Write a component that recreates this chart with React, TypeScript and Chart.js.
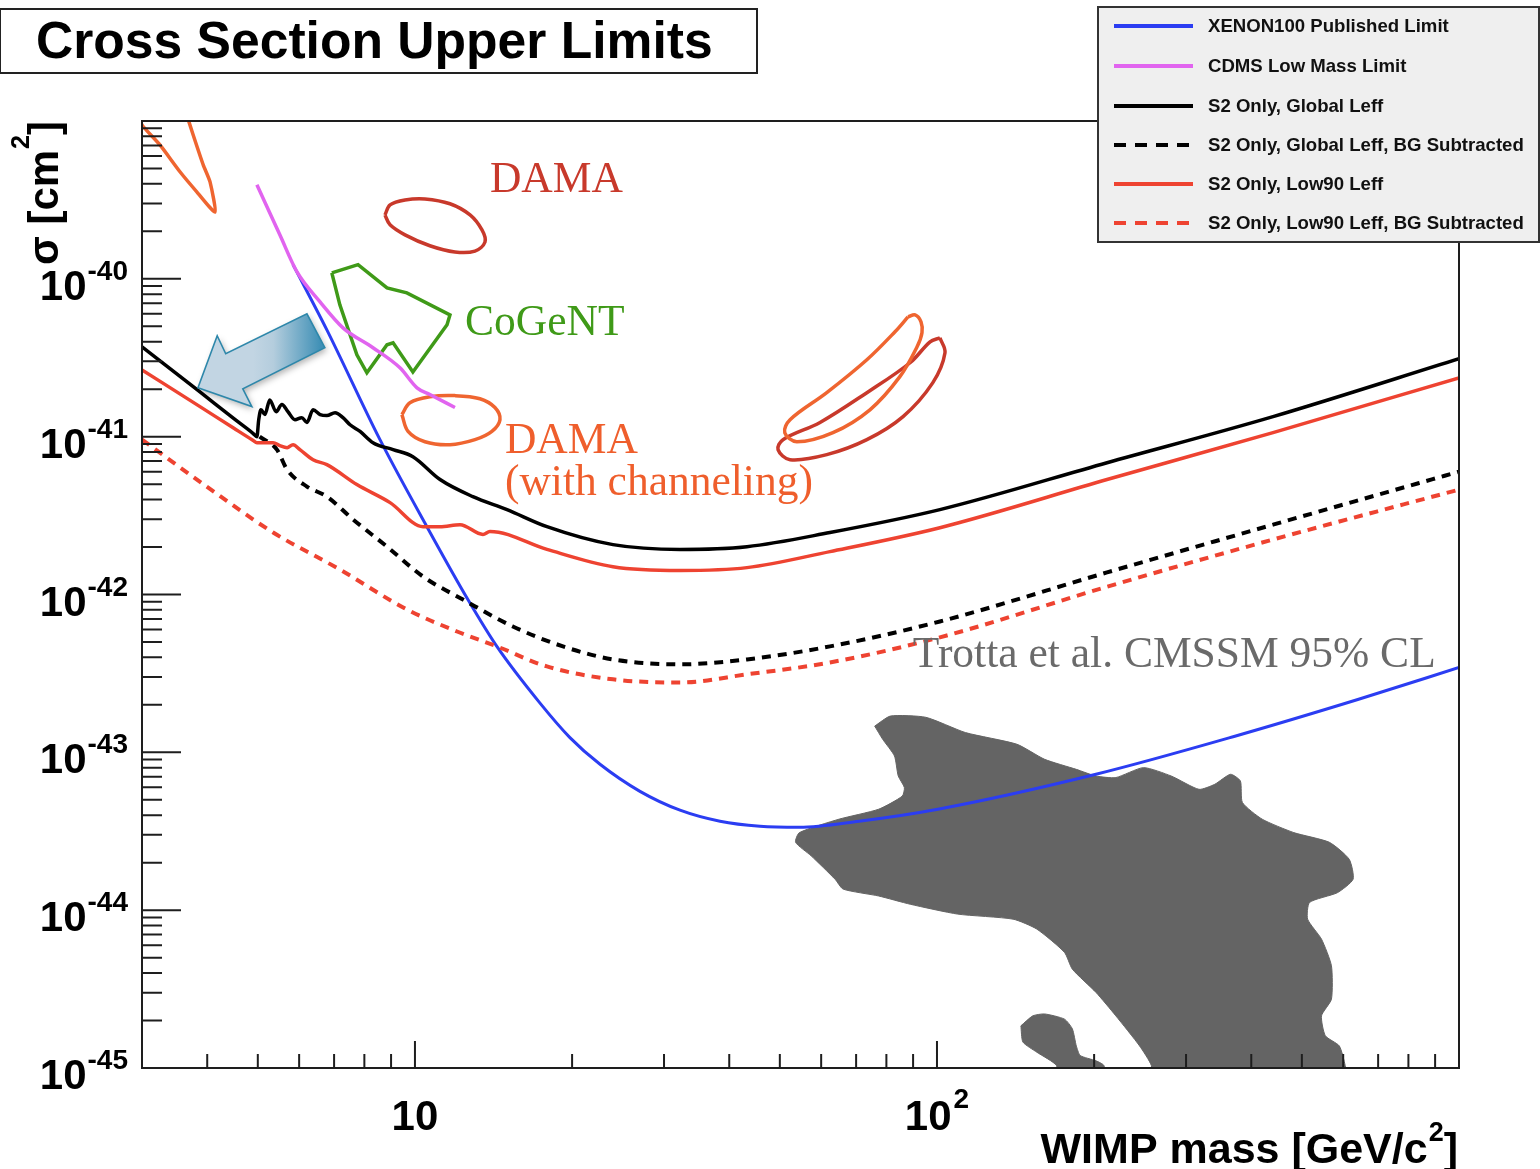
import React, { useEffect, useRef } from "react";
import { Chart, registerables } from "chart.js";

Chart.register(...registerables);

// ---- axis ranges (WIMP mass in GeV/c^2, cross section in cm^2) ----
const massMin = 3;
const massMax = 1000;
const sigmaMin = 1e-45;
const sigmaMax = 1e-39;

const xMajorTicks = [10, 100];
const xMinorTicks = [4, 5, 6, 7, 8, 9, 20, 30, 40, 50, 60, 70, 80, 90, 200, 300, 400, 500, 600, 700, 800, 900];
const xTickBases = ["10", "10"];
const xTickExponents = ["", "2"];
const yDecadeExponents = [-45, -44, -43, -42, -41, -40];
const yMinorMultipliers = [2, 3, 4, 5, 6, 7, 8, 9];

// ---- exclusion limits ----
const xenonMass = [5.84, 6.78, 8.57, 10.54, 12.63, 14.35, 17.36, 19.81, 22.62, 26.98, 32.19, 38.4, 45.8, 54.5, 70.9, 100.4, 201.6, 370.7, 640, 1000];
const xenonSigma = [1.23e-40, 4.75e-41, 9.57e-42, 2.69e-42, 9.29e-43, 4.69e-43, 2.05e-43, 1.24e-43, 8.4e-44, 5.66e-44, 4.3e-44, 3.66e-44, 3.4e-44, 3.35e-44, 3.66e-44, 4.36e-44, 7.26e-44, 1.26e-43, 2.16e-43, 3.45e-43];

const cdmsMass = [4.98, 5.51, 5.94, 6.58, 7.28, 8.31, 9.36, 10.09, 10.68, 11.93];
const cdmsSigma = [3.94e-40, 1.9e-40, 1.11e-40, 7.14e-41, 4.89e-41, 3.66e-41, 2.73e-41, 2.04e-41, 1.85e-41, 1.53e-41];

const globalMass = [3.0, 3.874, 4.5, 4.9, 4.98, 5.02, 5.07, 5.16, 5.27, 5.42, 5.56, 5.71, 5.89, 6.07, 6.21, 6.38, 6.58, 6.78, 7.03, 7.28, 7.51, 7.85, 8.31, 9.08, 9.91, 11.17, 12.91, 15.01, 17.9, 23.95, 32.19, 43.25, 62.37, 101.3, 211.7, 440.3, 1000];
const globalSigma = [3.71e-41, 1.92e-41, 1.3e-41, 1.047e-41, 1.0e-41, 1.28e-41, 1.48e-41, 1.38e-41, 1.71e-41, 1.44e-41, 1.6e-41, 1.44e-41, 1.28e-41, 1.32e-41, 1.23e-41, 1.48e-41, 1.38e-41, 1.36e-41, 1.42e-41, 1.32e-41, 1.19e-41, 1.08e-41, 9.16e-42, 8.28e-42, 7.47e-42, 5.35e-42, 4.17e-42, 3.45e-42, 2.69e-42, 2.07e-42, 1.93e-42, 2.01e-42, 2.47e-42, 3.45e-42, 6.84e-42, 1.34e-41, 3.12e-41];

const globalBgMass = [5.04, 5.44, 5.69, 6.21, 6.78, 7.61, 8.84, 10.36, 12.36, 15.4, 19.21, 23.95, 32.19, 43.25, 62.37, 101.3, 211.7, 440.3, 1000];
const globalBgSigma = [1.0e-41, 8.28e-42, 6.18e-42, 4.83e-42, 4.17e-42, 2.99e-42, 2.01e-42, 1.3e-42, 9.29e-43, 6.27e-43, 4.69e-43, 3.88e-43, 3.61e-43, 3.88e-43, 4.69e-43, 6.75e-43, 1.38e-42, 2.77e-42, 6.0e-42];

const low90Mass = [3.0, 3.874, 4.5, 4.9, 4.98, 5.35, 5.51, 5.69, 5.84, 6.02, 6.38, 6.78, 7.74, 8.96, 10.36, 11.17, 12.2, 13.5, 13.92, 17.9, 23.95, 32.19, 43.25, 62.37, 101.3, 211.7, 440.3, 1000];
const low90Sigma = [2.65e-41, 1.55e-41, 1.13e-41, 9.46e-42, 9.16e-42, 9.16e-42, 8.77e-42, 8.51e-42, 8.89e-42, 8.28e-42, 7.14e-42, 6.65e-42, 4.97e-42, 3.82e-42, 2.69e-42, 2.69e-42, 2.77e-42, 2.4e-42, 2.51e-42, 1.93e-42, 1.5e-42, 1.42e-42, 1.48e-42, 1.87e-42, 2.65e-42, 5.35e-42, 1.06e-41, 2.36e-41];

const low90BgMass = [3.0, 3.99, 5.35, 7.18, 9.65, 12.04, 14.35, 17.9, 23.95, 32.19, 43.25, 62.37, 101.3, 211.7, 440.3, 1000];
const low90BgSigma = [9.57e-42, 4.83e-42, 2.47e-42, 1.44e-42, 8.04e-43, 5.83e-43, 4.69e-43, 3.5e-43, 2.9e-43, 2.77e-43, 3.12e-43, 3.71e-43, 5.35e-43, 1.12e-42, 2.23e-42, 4.62e-42];

// ---- signal regions (closed contours) ----
const damaLowChanMass = [2.91, 3.0, 3.247, 3.55, 3.82, 4.14, 4.05, 3.93, 3.76, 3.63];
const damaLowChanSigma = [1.17e-39, 9.44e-40, 7.05e-40, 4.75e-40, 3.56e-40, 2.65e-40, 4.11e-40, 5.27e-40, 8.15e-40, 1.17e-39];

const damaLowMass = [8.76, 8.96, 9.57, 10.45, 11.67, 12.75, 13.44, 13.62, 13.03, 11.93, 10.68, 9.57, 8.96, 8.76];
const damaLowSigma = [2.54e-40, 2.94e-40, 3.16e-40, 3.21e-40, 2.99e-40, 2.54e-40, 2.04e-40, 1.71e-40, 1.5e-40, 1.48e-40, 1.62e-40, 1.9e-40, 2.2e-40, 2.54e-40];

const cogentMass = [6.93, 7.78, 8.84, 9.65, 11.67, 11.52, 9.91, 9.08, 8.84, 8.09, 7.74, 7.18, 6.93];
const cogentSigma = [1.09e-40, 1.23e-40, 8.77e-41, 8.15e-41, 5.91e-41, 5.12e-41, 2.57e-41, 3.93e-41, 3.82e-41, 2.54e-41, 3.3e-41, 6.84e-41, 1.09e-40];

const damaChanMass = [9.44, 9.78, 10.68, 11.93, 13.32, 14.23, 14.55, 14.04, 13.03, 11.67, 10.45, 9.7, 9.44];
const damaChanSigma = [1.38e-41, 1.64e-41, 1.79e-41, 1.82e-41, 1.74e-41, 1.53e-41, 1.28e-41, 1.08e-41, 9.57e-42, 8.89e-42, 9.28e-42, 1.08e-41, 1.38e-41];

const damaHighChanMass = [88.0, 90.8, 93.2, 93.6, 91.6, 84.9, 74.4, 63.2, 53.9, 51.1, 52.3, 61.5, 73.4, 83.1, 88.0];
const damaHighChanSigma = [5.74e-41, 5.91e-41, 5.34e-41, 4.55e-41, 3.71e-41, 2.4e-41, 1.48e-41, 1.06e-41, 9.28e-42, 1.06e-41, 1.28e-41, 1.9e-41, 3.07e-41, 4.62e-41, 5.74e-41];

const damaHighMass = [101.3, 103.6, 98.2, 86.1, 73.4, 61.5, 52.3, 49.6, 50.7, 59.7, 73.4, 88.8, 97.0, 101.3];
const damaHighSigma = [4.23e-41, 3.4e-41, 2.2e-41, 1.34e-41, 9.57e-42, 7.69e-42, 7.15e-42, 8.28e-42, 9.57e-42, 1.23e-41, 1.9e-41, 2.94e-41, 3.99e-41, 4.23e-41];

// CMSSM 95% CL region (Trotta et al.)
const cmssmMass = [75.98, 81.45, 95.2, 113.4, 142.3, 160.8, 184.9, 201.6, 220.1, 248.6, 281, 317.6, 340.4, 365.0, 381.3, 384.7, 419.8, 482.6, 564.6, 616.2, 626.8, 584.7, 517.4, 512.9, 545.3, 569.7, 569.7, 545.3, 554.6, 589.8, 605.3, 610, 257.5, 257.5, 244.4, 220.1, 201.7, 181.7, 175.5, 155.3, 139.9, 109.6, 88.9, 77.3, 66.1, 63.8, 57.4, 53.6, 54.5, 64.9, 77.3, 85.8, 86.6, 84.3, 82.9, 78.7, 75.98];
const cmssmSigma = [1.466e-43, 1.698e-43, 1.667e-43, 1.334e-43, 1.125e-43, 9.03e-44, 7.8e-44, 7.08e-44, 6.92e-44, 8.0e-44, 7.08e-44, 5.83e-44, 6.27e-44, 7.26e-44, 6.58e-44, 4.81e-44, 3.77e-44, 3.1e-44, 2.69e-44, 2.1e-44, 1.57e-44, 1.29e-44, 1.12e-44, 8.77e-45, 6.55e-45, 4.44e-45, 2.73e-45, 2.14e-45, 1.6e-45, 1.38e-45, 1.035e-45, 8e-46, 8e-46, 1.035e-45, 1.38e-45, 2.14e-45, 3.01e-45, 4.23e-45, 5.4e-45, 7.59e-45, 8.77e-45, 9.44e-45, 1.09e-44, 1.23e-44, 1.36e-44, 1.57e-44, 2.21e-44, 2.69e-44, 3.1e-44, 3.77e-44, 4.36e-44, 5.28e-44, 5.98e-44, 7.08e-44, 9.48e-44, 1.21e-43, 1.466e-43];
const cmssmIslandMass = [144.8, 152.6, 160.8, 175.5, 181.7, 184.9, 188.1, 201.7, 208.9, 208.9, 169.5, 169.5, 155.3, 146.1, 144.8];
const cmssmIslandSigma = [1.85e-45, 2.14e-45, 2.2e-45, 2.04e-45, 1.77e-45, 1.38e-45, 1.2e-45, 1.11e-45, 1.035e-45, 8e-46, 8e-46, 1.035e-45, 1.26e-45, 1.46e-45, 1.85e-45];

// ---- annotations ----
const arrowMass = [3.84, 4.18, 4.34, 6.21, 6.72, 4.68, 4.87];
const arrowSigma = [2.04e-41, 4.36e-41, 3.35e-41, 6.0e-41, 3.66e-41, 2.01e-41, 1.55e-41];

const noteTexts = ["DAMA", "CoGeNT", "DAMA", "(with channeling)", "Trotta et al. CMSSM 95% CL"];
const noteMass = [13.92, 12.47, 14.87, 14.87, 89.9];
const noteSigma = [3.56e-40, 4.42e-41, 7.92e-42, 4.3e-42, 3.45e-43];
const noteColors = ["#c8392b", "#3f9a18", "#ef5e2c", "#ef5e2c", "#6a6a6a"];

const legendLabels = [
  "XENON100 Published Limit",
  "CDMS Low Mass Limit",
  "S2 Only, Global Leff",
  "S2 Only, Global Leff, BG Subtracted",
  "S2 Only, Low90 Leff",
  "S2 Only, Low90 Leff, BG Subtracted",
];

const SANS = '"Liberation Sans", Arial, Helvetica, sans-serif';
const SERIF = '"Liberation Serif", "Times New Roman", serif';

function pts(mass: number[], sigma: number[]) {
  return mass.map((m, i) => ({ x: m, y: sigma[i] }));
}

function curve(label: string, mass: number[], sigma: number[], color: string, width: number, dash: number[], order: number, extra: any = {}) {
  return {
    label,
    data: pts(mass, sigma),
    borderColor: color,
    backgroundColor: color,
    borderWidth: width,
    borderDash: dash,
    pointRadius: 0,
    pointHoverRadius: 0,
    showLine: true,
    fill: false,
    order,
    clip: 0,
    ...extra,
  };
}

const decorPlugin = {
  id: "decor",
  beforeDraw(chart: any) {
    const { ctx, width, height } = chart;
    ctx.save();
    ctx.fillStyle = "#ffffff";
    ctx.fillRect(0, 0, width, height);
    ctx.restore();
  },
  afterDatasetsDraw(chart: any) {
    const ctx: CanvasRenderingContext2D = chart.ctx;
    const xs = chart.scales.x;
    const ys = chart.scales.y;
    const area = chart.chartArea;
    const px = (m: number) => xs.getPixelForValue(m);
    const py = (s: number) => ys.getPixelForValue(s);

    ctx.save();

    // pointer arrow
    {
      ctx.save();
      ctx.beginPath();
      arrowMass.forEach((m, i) => {
        const x = px(m);
        const y = py(arrowSigma[i]);
        if (i === 0) ctx.moveTo(x, y);
        else ctx.lineTo(x, y);
      });
      ctx.closePath();
      const g = ctx.createLinearGradient(px(4.9), 0, px(6.6), 0);
      g.addColorStop(0, "#c2d5e3");
      g.addColorStop(0.3, "#b4cddd");
      g.addColorStop(1, "#3f90b6");
      ctx.shadowColor = "rgba(0,0,0,0.3)";
      ctx.shadowBlur = 6;
      ctx.shadowOffsetX = 2;
      ctx.shadowOffsetY = 3;
      ctx.fillStyle = g;
      ctx.fill();
      ctx.shadowColor = "transparent";
      ctx.lineWidth = 1.6;
      ctx.strokeStyle = "#2d87aa";
      ctx.stroke();
      ctx.restore();
    }

    // region labels
    ctx.textAlign = "left";
    ctx.textBaseline = "alphabetic";
    ctx.font = `43.5px ${SERIF}`;
    noteTexts.forEach((t, i) => {
      ctx.fillStyle = noteColors[i];
      ctx.fillText(t, px(noteMass[i]), py(noteSigma[i]));
    });

    // frame
    ctx.strokeStyle = "#1e1e1e";
    ctx.lineWidth = 2;
    ctx.strokeRect(area.left, area.top, area.right - area.left, area.bottom - area.top);

    // y ticks (drawn inside the frame)
    ctx.beginPath();
    yDecadeExponents.forEach((d) => {
      const y = py(Math.pow(10, d));
      ctx.moveTo(area.left, y);
      ctx.lineTo(area.left + 39, y);
      yMinorMultipliers.forEach((k) => {
        const ym = py(k * Math.pow(10, d));
        ctx.moveTo(area.left, ym);
        ctx.lineTo(area.left + 20, ym);
      });
    });
    // x ticks
    xMajorTicks.forEach((v) => {
      const x = px(v);
      ctx.moveTo(x, area.bottom);
      ctx.lineTo(x, area.bottom - 27);
    });
    xMinorTicks.forEach((v) => {
      const x = px(v);
      ctx.moveTo(x, area.bottom);
      ctx.lineTo(x, area.bottom - 14);
    });
    ctx.stroke();

    // y tick labels: 10^n
    ctx.fillStyle = "#000";
    yDecadeExponents.forEach((d) => {
      const y = py(Math.pow(10, d));
      const exp = String(d);
      ctx.font = `bold 28px ${SANS}`;
      const we = ctx.measureText(exp).width;
      const right = 128;
      ctx.textAlign = "left";
      ctx.fillText(exp, right - we, y + 1);
      ctx.font = `bold 42px ${SANS}`;
      const wb = ctx.measureText("10").width;
      ctx.fillText("10", right - we - 1 - wb, y + 21);
    });

    // x tick labels
    xMajorTicks.forEach((v, i) => {
      const base = xTickBases[i];
      const exp = xTickExponents[i];
      ctx.font = `bold 42px ${SANS}`;
      const wb = ctx.measureText(base).width;
      ctx.font = `bold 28px ${SANS}`;
      const we = exp ? ctx.measureText(exp).width + 2 : 0;
      const left = px(v) - (wb + we) / 2;
      ctx.font = `bold 42px ${SANS}`;
      ctx.fillText(base, left, 1130);
      if (exp) {
        ctx.font = `bold 28px ${SANS}`;
        ctx.fillText(exp, left + wb + 2, 1108);
      }
    });

    // x axis title
    {
      const main = "WIMP mass [GeV/c";
      ctx.font = `bold 43px ${SANS}`;
      const w1 = ctx.measureText(main).width;
      const w3 = ctx.measureText("]").width;
      ctx.font = `bold 27px ${SANS}`;
      const w2 = ctx.measureText("2").width + 1;
      const right = area.right - 1;
      const left = right - w3 - w2 - w1;
      ctx.font = `bold 43px ${SANS}`;
      ctx.fillText(main, left, 1163);
      ctx.fillText("]", left + w1 + w2, 1163);
      ctx.font = `bold 27px ${SANS}`;
      ctx.fillText("2", left + w1 + 1, 1141);
    }

    // y axis title
    {
      ctx.save();
      ctx.translate(58, 265);
      ctx.rotate(-Math.PI / 2);
      ctx.font = `bold 42px ${SANS}`;
      const main = "\u03C3 [cm";
      const w1 = ctx.measureText(main).width;
      ctx.fillText(main, 0, 0);
      ctx.font = `bold 25px ${SANS}`;
      const w2 = ctx.measureText("2").width + 1;
      ctx.fillText("2", w1 + 1, -29);
      ctx.font = `bold 42px ${SANS}`;
      ctx.fillText("]", w1 + w2, 0);
      ctx.restore();
    }

    // title box
    ctx.fillStyle = "#ffffff";
    ctx.fillRect(0, 9, 757, 64);
    ctx.strokeStyle = "#222";
    ctx.lineWidth = 2;
    ctx.strokeRect(0, 9, 757, 64);
    ctx.fillStyle = "#000";
    ctx.font = `bold 51.6px ${SANS}`;
    ctx.fillText("Cross Section Upper Limits", 36, 58);

    // legend
    ctx.fillStyle = "#efefef";
    ctx.fillRect(1098, 7, 441, 235);
    ctx.strokeStyle = "#333";
    ctx.lineWidth = 2;
    ctx.strokeRect(1098, 7, 441, 235);
    const rowY = [26, 66, 106, 145, 184, 223];
    legendLabels.forEach((lab, i) => {
      const ds = chart.data.datasets.find((d: any) => d.label === lab);
      if (!ds) return;
      const y = rowY[i];
      ctx.save();
      ctx.strokeStyle = ds.borderColor;
      ctx.lineWidth = 4;
      ctx.setLineDash(ds.borderDash && ds.borderDash.length ? [12, 9] : []);
      ctx.beginPath();
      ctx.moveTo(1114, y);
      ctx.lineTo(1193, y);
      ctx.stroke();
      ctx.restore();
      ctx.fillStyle = "#111";
      ctx.font = `bold 18.6px ${SANS}`;
      ctx.textBaseline = "middle";
      ctx.fillText(lab, 1208, y + 1);
      ctx.textBaseline = "alphabetic";
    });

    ctx.restore();
  },
};

export default function App() {
  const canvasRef = useRef<HTMLCanvasElement | null>(null);

  useEffect(() => {
    const canvas = canvasRef.current;
    if (!canvas) return;

    const BLUE = "#2b3df2";
    const MAGENTA = "#e164ef";
    const RED = "#ee4331";
    const BLACK = "#000000";
    const DARKRED = "#c8392b";
    const ORANGE = "#ef6530";
    const GREEN = "#3f9a18";
    const GRAY = "#646464";

    const smooth = { cubicInterpolationMode: "monotone" };
    const loop = { tension: 0.35 };

    const datasets: any[] = [
      curve("XENON100 Published Limit", xenonMass, xenonSigma, BLUE, 3, [], 6, smooth),
      curve("CDMS Low Mass Limit", cdmsMass, cdmsSigma, MAGENTA, 3.5, [], 5, smooth),
      curve("S2 Only, Global Leff", globalMass, globalSigma, BLACK, 3.5, [], 3, smooth),
      curve("S2 Only, Global Leff, BG Subtracted", globalBgMass, globalBgSigma, BLACK, 4, [9, 7], 4, smooth),
      curve("S2 Only, Low90 Leff", low90Mass, low90Sigma, RED, 3.5, [], 3, smooth),
      curve("S2 Only, Low90 Leff, BG Subtracted", low90BgMass, low90BgSigma, RED, 4, [9, 7], 4, smooth),
      curve("DAMA (channeling, low mass)", damaLowChanMass, damaLowChanSigma, ORANGE, 3.5, [], 10, { tension: 0.2 }),
      curve("DAMA (low mass)", damaLowMass, damaLowSigma, DARKRED, 3.5, [], 10, loop),
      curve("CoGeNT", cogentMass, cogentSigma, GREEN, 3.5, [], 10),
      curve("DAMA (channeling)", damaChanMass, damaChanSigma, ORANGE, 3.5, [], 10, loop),
      curve("DAMA (channeling, high mass)", damaHighChanMass, damaHighChanSigma, ORANGE, 3.5, [], 10, loop),
      curve("DAMA (high mass)", damaHighMass, damaHighSigma, DARKRED, 3.5, [], 10, loop),
      curve("CMSSM 95% CL", cmssmMass, cmssmSigma, GRAY, 1, [], 20, { fill: "shape", backgroundColor: GRAY, tension: 0.2 }),
      curve("CMSSM 95% CL island", cmssmIslandMass, cmssmIslandSigma, GRAY, 1, [], 20, { fill: "shape", backgroundColor: GRAY, tension: 0.2 }),
    ];

    const chart = new Chart(canvas, {
      type: "scatter",
      data: { datasets },
      options: {
        animation: false,
        responsive: false,
        devicePixelRatio: 1,
        events: [],
        layout: { padding: { left: 142, top: 121, right: 81, bottom: 101 } },
        scales: {
          x: { type: "logarithmic", min: massMin, max: massMax, display: false },
          y: { type: "logarithmic", min: sigmaMin, max: sigmaMax, display: false },
        },
        plugins: {
          legend: { display: false },
          tooltip: { enabled: false },
          title: { display: false },
        },
      } as any,
      plugins: [decorPlugin],
    });

    return () => chart.destroy();
  }, []);

  return (
    <div style={{ position: "absolute", left: 0, top: 0, width: 1540, height: 1169, background: "#ffffff" }}>
      <canvas ref={canvasRef} width={1540} height={1169} style={{ display: "block", width: 1540, height: 1169 }} />
    </div>
  );
}
